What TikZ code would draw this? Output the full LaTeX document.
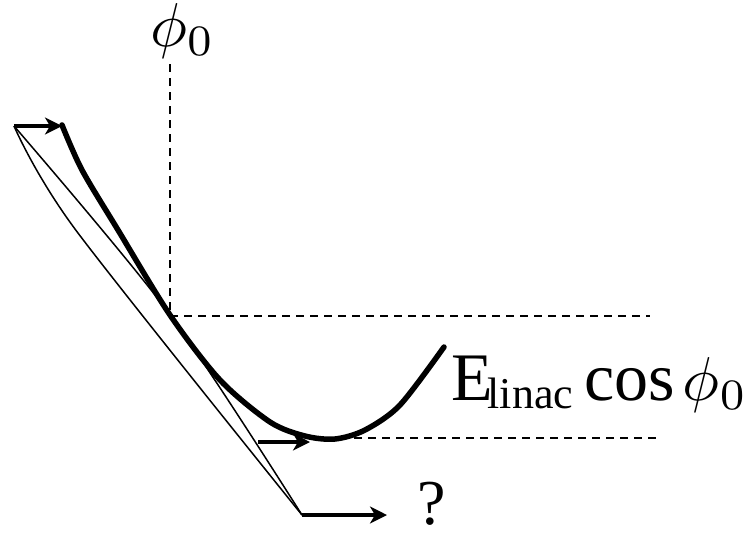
\documentclass[tikz,border=0pt]{standalone}
\usepackage{fontspec}
\setmainfont{Liberation Serif}
\usetikzlibrary{arrows.meta}
\newcommand{\phizero}{\scalebox{6.2}{\fontsize{10}{12}\selectfont$\phi_0$}}
\tikzset{
  beam/.style={line width=5.5pt, line join=round, line cap=round},
  wedge/.style={line width=1.5pt, line join=round},
  guide/.style={line width=1.5pt, dash pattern=on 8pt off 6pt},
  kick/.style={line width=4.5pt, -{Stealth[length=17pt, width=17pt, inset=5pt]}},
  biglabel/.style={inner sep=0pt, anchor=base west, font=\fontsize{68}{80}\selectfont}
}

\begin{document}
\begin{tikzpicture}[x=1pt, y=-1pt]

\useasboundingbox (0,0) rectangle (746,536);

% Points
\coordinate (wtop)   at (14,126);
\coordinate (wbot)   at (302,515);
\coordinate (ctop)   at (62,126);
\coordinate (axtop)  at (170,64);
\coordinate (axbot)  at (170,316);
\coordinate (axend)  at (650,316);
\coordinate (lowbeg) at (340,438);
\coordinate (lowend) at (658,438);
\coordinate (midbeg) at (258,442);
\coordinate (midend) at (310,442);
\coordinate (botend) at (387,515);

% Guides
\draw[guide] (axtop) -- (axbot) -- (axend);
\draw[guide] (lowbeg) -- (lowend);

% Wedge
\draw[wedge] plot[smooth, tension=0.5] coordinates {(wtop) (75,229) (wbot)};
\draw[wedge] plot[smooth, tension=0.5] coordinates {(wtop) (168,312) (wbot)};

% Curve
\draw[beam] plot[smooth] coordinates {(62,125) (82,170) (118,230) (170,315)
  (220,380) (270,422) (305,436) (335,439) (365,430) (400,405) (444,347)};

% Arrows
\draw[kick] (wtop) -- (ctop);
\draw[kick] (midbeg) -- (midend);
\draw[kick] (wbot) -- (botend);

% Labels
\node[biglabel] (phitop) at (150,46) {\phizero};
\node[biglabel] (elabel) at (451,400)
  {E\kern-5pt\raisebox{-8pt}{\fontsize{44}{44}\selectfont linac}\kern11pt cos\kern8pt\phizero};
\node[biglabel, font=\fontsize{64}{70}\selectfont] (query) at (417,524) {?};

\end{tikzpicture}
\end{document}
